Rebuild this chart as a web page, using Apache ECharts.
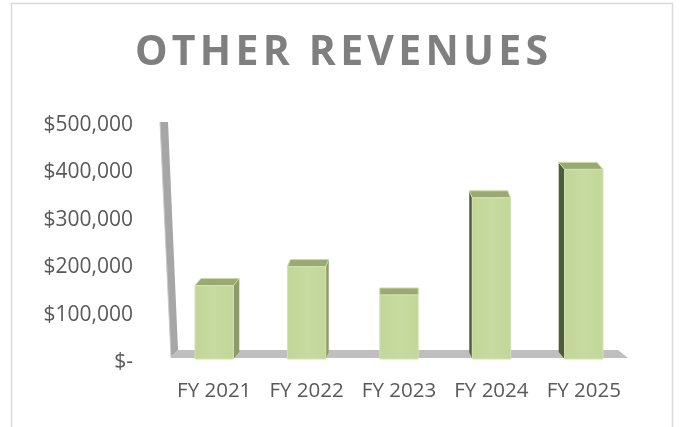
<!DOCTYPE html>
<html>
<head>
<meta charset="utf-8">
<script src="https://cdn.jsdelivr.net/npm/echarts@6/dist/echarts.min.js"></script>
<style>html,body{margin:0;padding:0;background:#fff;}#c{width:681px;height:427px;}</style>
</head>
<body>
<div id="c"></div>
<script>
const titleText = 'OTHER REVENUES';
const categories = ['FY 2021', 'FY 2022', 'FY 2023', 'FY 2024', 'FY 2025'];
const revenues = [155000, 195000, 135000, 340000, 400000];
const yTicks = [0, 100000, 200000, 300000, 400000, 500000];

const chart = echarts.init(document.getElementById('c'), null, {renderer: 'canvas'});
const FONT = 'Open Sans';

// Title laid out letter by letter to reproduce the wide letter spacing
function titleGraphics() {
  const font = 'bold 41px "' + FONT + '"';
  const ctx = document.createElement('canvas').getContext('2d');
  ctx.font = font;
  const chars = titleText.split('');
  const widths = chars.map(c => ctx.measureText(c).width);
  const natural = widths.reduce((a, b) => a + b, 0);
  const totalW = 413, startX = 135;
  const gap = (totalW - natural) / (chars.length - 1);
  const out = [];
  let x = startX;
  chars.forEach((c, k) => {
    if (c !== ' ') {
      out.push({type: 'text', x: x, y: 53, style: {text: c, fill: '#7f7f7f', font: font, textAlign: 'left', textVerticalAlign: 'middle'}});
    }
    x += widths[k] + gap;
  });
  return out;
}

function renderFloor(params, api) {
  const cs = params.coordSys;
  const o = api.coord([0, 0]);
  const top = api.coord([0, yTicks[yTicks.length - 1]]);
  const L = cs.x, R = cs.x + cs.width, yb = o[1];
  const wall = [[L - 8, top[1] - 3], [L, top[1] - 3], [L + 10, yb - 12], [L + 3, yb - 5]];
  const floor = [[L + 10, yb - 12], [R - 12, yb - 12], [R - 2, yb - 4], [L + 2, yb - 4]];
  return {type: 'group', children: [
    {type: 'polygon', shape: {points: floor}, style: {fill: '#bfbfbf'}},
    {type: 'polygon', shape: {points: wall}, style: {fill: '#a6a6a6'}},
    {type: 'polyline', shape: {points: [[L - 8, top[1] - 3], [L + 3, yb - 5]]}, style: {stroke: '#c8c8c8', lineWidth: 1, fill: null}}
  ]};
}

function renderBar(params, api) {
  const cs = params.coordSys;
  const i = api.value(0), v = api.value(1);
  const t = api.coord([i, v]);
  const b = api.coord([i, 0]);
  const bw = api.size([1, 0])[0] * 0.415;
  const lift = 3;
  const xl = t[0] - bw / 2, xr = t[0] + bw / 2;
  const yt = t[1] - lift, yb = b[1] - lift;
  const vp = cs.x + cs.width / 2;
  const dx = (vp - t[0]) * 0.032, dy = -7;
  const children = [];
  if (dx > 0.5) {
    children.push({type: 'polygon', shape: {points: [[xr, yt], [xr + dx, yt + dy], [xr + dx, yb + dy], [xr, yb]]}, style: {fill: '#8b9c66'}});
  } else if (dx < -0.5) {
    children.push({type: 'polygon', shape: {points: [[xl, yt], [xl + dx, yt + dy], [xl + dx, yb + dy], [xl, yb]]}, style: {fill: '#505b3a'}});
  }
  children.push({type: 'polygon', shape: {points: [[xl, yt], [xr, yt], [xr + dx, yt + dy], [xl + dx, yt + dy]]}, style: {fill: '#98a972', stroke: '#c9dba3', lineWidth: 1}});
  children.push({type: 'rect', shape: {x: xl, y: yt, width: bw, height: yb - yt},
    style: {fill: new echarts.graphic.LinearGradient(0, 0, 1, 0, [{offset: 0, color: '#c2d699'}, {offset: 0.5, color: '#c7da9f'}, {offset: 1, color: '#c3d79a'}]), stroke: '#d3e2b2', lineWidth: 1}});
  return {type: 'group', children: children};
}

chart.setOption({
  animation: false,
  backgroundColor: '#ffffff',
  graphic: [
    {type: 'rect', shape: {x: 11.5, y: 3.5, width: 661, height: 440}, style: {fill: null, stroke: '#d9d9d9', lineWidth: 1.5}, z: -10}
  ].concat(titleGraphics()),
  grid: {left: 168, right: 51, top: 125, bottom: 65},
  xAxis: {
    type: 'category', data: categories, boundaryGap: true,
    axisLine: {show: false}, axisTick: {show: false},
    axisLabel: {color: '#595959', fontSize: 20.5, fontFamily: FONT, margin: 19, interval: 0}
  },
  yAxis: {
    type: 'value', min: 0, max: 500000, interval: 100000,
    splitLine: {show: false}, axisLine: {show: false}, axisTick: {show: false},
    axisLabel: {color: '#595959', fontSize: 21, fontFamily: FONT, margin: 35,
      formatter: function (v) { return v === 0 ? '$-' : '$' + v.toLocaleString('en-US'); }}
  },
  series: [
    {type: 'custom', name: 'floor', renderItem: renderFloor, data: [[0, 0]], z: 1, silent: true},
    {type: 'custom', name: 'Other Revenues', renderItem: renderBar, data: revenues.map((v, i) => [i, v]), z: 2}
  ]
});
</script>
</body>
</html>
